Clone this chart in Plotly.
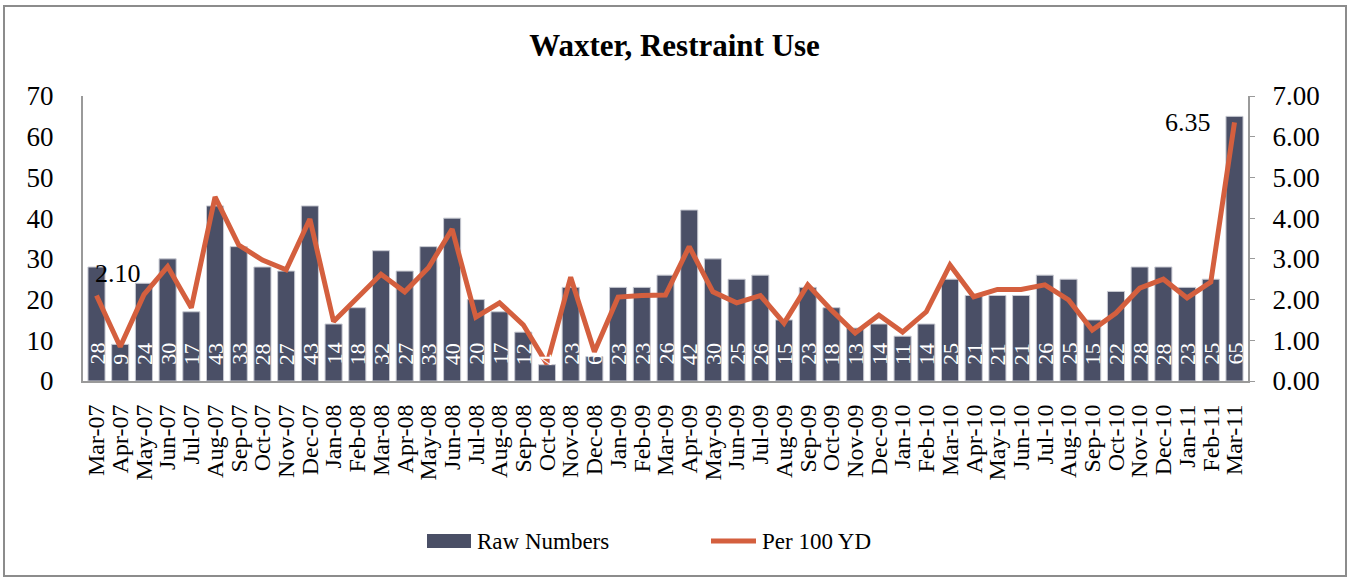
import plotly.graph_objects as go

months = ["Mar-07", "Apr-07", "May-07", "Jun-07", "Jul-07", "Aug-07", "Sep-07", "Oct-07", "Nov-07", "Dec-07",
          "Jan-08", "Feb-08", "Mar-08", "Apr-08", "May-08", "Jun-08", "Jul-08", "Aug-08", "Sep-08", "Oct-08",
          "Nov-08", "Dec-08", "Jan-09", "Feb-09", "Mar-09", "Apr-09", "May-09", "Jun-09", "Jul-09", "Aug-09",
          "Sep-09", "Oct-09", "Nov-09", "Dec-09", "Jan-10", "Feb-10", "Mar-10", "Apr-10", "May-10", "Jun-10",
          "Jul-10", "Aug-10", "Sep-10", "Oct-10", "Nov-10", "Dec-10", "Jan-11", "Feb-11", "Mar-11"]

raw_numbers = [28, 9, 24, 30, 17, 43, 33, 28, 27, 43,
               14, 18, 32, 27, 33, 40, 20, 17, 12, 4,
               23, 6, 23, 23, 26, 42, 30, 25, 26, 15,
               23, 18, 13, 14, 11, 14, 25, 21, 21, 21,
               26, 25, 15, 22, 28, 28, 23, 25, 65]

per_100_yd = [2.10, 0.84, 2.12, 2.81, 1.80, 4.52, 3.34, 2.97, 2.73, 3.98,
              1.46, 2.04, 2.62, 2.19, 2.78, 3.73, 1.57, 1.92, 1.38, 0.42,
              2.55, 0.72, 2.06, 2.10, 2.11, 3.30, 2.19, 1.92, 2.10, 1.42,
              2.36, 1.74, 1.18, 1.62, 1.20, 1.70, 2.85, 2.07, 2.25, 2.25,
              2.36, 1.99, 1.25, 1.67, 2.28, 2.50, 2.04, 2.43, 6.35]

left_ticks = [0, 10, 20, 30, 40, 50, 60, 70]
right_ticks = [0, 1, 2, 3, 4, 5, 6, 7]

series_names = ["Raw Numbers", "Per 100 YD"]

FONT = "Liberation Serif, Times New Roman, serif"
BAR_COLOR = "#4A4F66"
LINE_COLOR = "#D45F3E"
AXIS_COLOR = "#9A9A9A"

W, H = 1349, 578
L, R, T, B = 83, 101, 96, 197
pw, ph = W - L - R, H - T - B


def px(xp):
    return (xp - L) / pw


def py(yp):
    return (H - B - yp) / ph


fig = go.Figure()
fig.add_trace(go.Bar(
    x=months, y=raw_numbers, name=series_names[0],
    marker=dict(color=BAR_COLOR, line=dict(color="#C8CAD2", width=1)),
    yaxis="y", showlegend=False,
))
fig.add_trace(go.Scatter(
    x=months, y=per_100_yd, name=series_names[1], mode="lines",
    line=dict(color=LINE_COLOR, width=5),
    yaxis="y2", showlegend=False,
))

annotations = []
# bar value labels at the base of each bar
for m, v in zip(months, raw_numbers):
    annotations.append(dict(
        x=m, y=0, xref="x", yref="y", text=str(v), showarrow=False,
        textangle=-90, xanchor="center", yanchor="bottom", yshift=15, borderpad=0,
        font=dict(family=FONT, size=22, color="white"),
    ))
# line labels for first and last points
annotations.append(dict(
    x=months[0], y=per_100_yd[0], xref="x", yref="y2", text=f"{per_100_yd[0]:.2f}",
    showarrow=False, xanchor="center", yanchor="middle", xshift=21, yshift=22,
    font=dict(family=FONT, size=26, color="black"),
))
annotations.append(dict(
    x=months[-1], y=per_100_yd[-1], xref="x", yref="y2", text=f"{per_100_yd[-1]:.2f}",
    showarrow=False, xanchor="right", yanchor="middle", xshift=-22, yshift=0,
    font=dict(family=FONT, size=26, color="black"),
))

# legend (drawn manually to match the wide swatches)
legend_y = py(541)
annotations.append(dict(x=px(475), y=legend_y, xref="paper", yref="paper", text=series_names[0],
                        showarrow=False, xanchor="left", yanchor="middle",
                        font=dict(family=FONT, size=23, color="black")))
annotations.append(dict(x=px(760), y=legend_y, xref="paper", yref="paper", text=series_names[1],
                        showarrow=False, xanchor="left", yanchor="middle",
                        font=dict(family=FONT, size=23, color="black")))

shapes = [
    dict(type="rect", xref="paper", yref="paper",
         x0=px(4), x1=px(1346), y0=py(576), y1=py(6),
         line=dict(color="#8C8C8C", width=2), fillcolor="rgba(0,0,0,0)", layer="below"),
    dict(type="rect", xref="paper", yref="paper",
         x0=px(427), x1=px(471), y0=py(548), y1=py(534),
         line=dict(width=0), fillcolor=BAR_COLOR),
    dict(type="line", xref="paper", yref="paper",
         x0=px(711), x1=px(756), y0=legend_y, y1=legend_y,
         line=dict(color=LINE_COLOR, width=5)),
]

fig.update_layout(
    width=W, height=H,
    margin=dict(l=L, r=R, t=T, b=B, autoexpand=False),
    paper_bgcolor="white", plot_bgcolor="white",
    font=dict(family=FONT, color="black"),
    title=dict(text="<b>Waxter, Restraint Use</b>", x=0.5, xref="container", xanchor="center",
               y=1 - 45 / H, yref="container", yanchor="middle",
               font=dict(family=FONT, size=31, color="black")),
    bargap=0.28,
    showlegend=False,
    xaxis=dict(type="category", tickmode="linear", dtick=1, tickangle=-90, showgrid=False,
               showline=True, linecolor=AXIS_COLOR, automargin=False,
               linewidth=2, ticks="", tickfont=dict(family=FONT, size=24, color="black"),
               ticklabelstandoff=12),
    yaxis=dict(range=[0, 70], tickvals=left_ticks, showgrid=False, showline=True, linecolor=AXIS_COLOR,
               linewidth=2, ticks="", zeroline=False, automargin=False,
               tickfont=dict(family=FONT, size=27, color="black"), ticklabelstandoff=22),
    yaxis2=dict(range=[0, 7], tickvals=right_ticks, tickformat=".2f", overlaying="y", side="right",
                showgrid=False, showline=True, linecolor=AXIS_COLOR, linewidth=2, ticks="outside",
                ticklen=5, tickcolor=AXIS_COLOR, zeroline=False, automargin=False,
                tickfont=dict(family=FONT, size=27, color="black"), ticklabelstandoff=12),
    annotations=annotations,
    shapes=shapes,
)

fig.write_html("out.html", config={"displayModeBar": False},
               post_script="document.body.style.margin='0px';document.body.style.overflow='hidden';")
